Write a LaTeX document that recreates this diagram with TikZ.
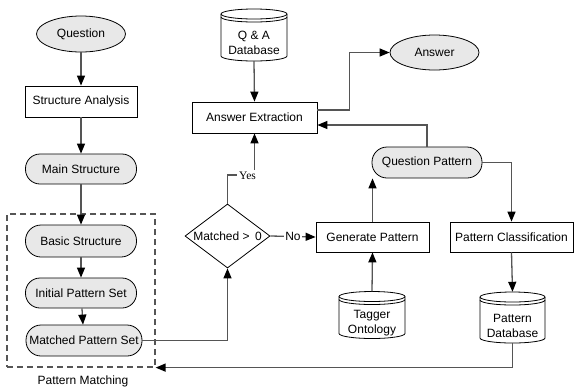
\documentclass[tikz,border=0pt]{standalone}
\usepackage{fontspec}
\setmainfont{Liberation Sans}
\newfontfamily\yesfont{Liberation Serif}
\usetikzlibrary{shapes.geometric,arrows.meta}
\definecolor{lgray}{RGB}{232,232,232}
\definecolor{lnc}{RGB}{85,85,85}
\tikzset{
  base/.style={draw=black, line width=0.8bp, font=\fontsize{12bp}{15bp}\selectfont, inner sep=0pt, align=center},
  procbox/.style={base, rectangle, fill=white},
  termell/.style={base, ellipse, fill=lgray, minimum width=89bp, minimum height=36bp},
  stadium/.style={base, rectangle, rounded corners=14.5bp, fill=lgray, minimum width=111bp, minimum height=30bp},
  decision/.style={base, diamond, fill=white, minimum width=85bp, minimum height=64bp, aspect=1.33},
  conn/.style={draw=lnc, line width=1.3bp},
  arr/.style={conn, -{Triangle[length=10bp,width=8bp,color=black]}},
  cylline/.style={draw=black, line width=0.8bp},
  lbl/.style={font=\fontsize{12bp}{15bp}\selectfont, inner sep=1.5bp, fill=white},
  pmbox/.style={draw=lnc, line width=1.2bp, dash pattern=on 6bp off 4bp, minimum width=148bp, minimum height=153bp, inner sep=0pt}
}
\newcommand{\cylnode}[6]{%
  \begin{scope}[shift={(#2,#3)}]
    \pgfmathsetmacro\hw{#4/2}\pgfmathsetmacro\hh{#5/2}
    \draw[cylline,fill=white] (-\hw,-\hh+5) -- (-\hw,\hh-5)
      arc[start angle=180,end angle=0,x radius=\hw,y radius=5]
      -- (\hw,-\hh+5)
      arc[start angle=0,end angle=-180,x radius=\hw,y radius=5] -- cycle;
    \draw[cylline] (-\hw,-\hh+5) arc[start angle=180,end angle=0,x radius=\hw,y radius=5];
    \draw[cylline] (-\hw,-\hh+8) arc[start angle=180,end angle=0,x radius=\hw,y radius=5];
  \end{scope}
  \node[inner sep=0pt, minimum width=#4bp, minimum height=#5bp] (#1) at (#2,#3) {};
  \node[font=\fontsize{12bp}{15bp}\selectfont, align=center, inner sep=0pt] (#1-t) at (#2,#3+8) {#6};
}
\begin{document}
\begin{tikzpicture}[x=1bp,y=-1bp]
\useasboundingbox (0,0) rectangle (574,387);

% left column
\node[termell] (q) at (81,34) {Question};
\node[procbox, minimum width=112bp, minimum height=31bp] (sa) at (81,101.5) {Structure Analysis};
\node[stadium] (ms) at (81,169) {Main Structure};
\node[pmbox] (pm) at (81,290.5) {};
\node[stadium, minimum height=32bp, rounded corners=15.5bp] (bs) at (81,241) {Basic Structure};
\node[stadium] (ips) at (81,293) {Initial Pattern Set};
\node[stadium, minimum width=116bp, minimum height=31bp, rounded corners=15bp] (mps) at (84,340.5) {Matched Pattern Set};
\node[font=\fontsize{12bp}{15bp}\selectfont, inner sep=0pt] (pml) at (83,381) {Pattern Matching};

% middle
\cylnode{qa}{254}{35}{66}{52}{Q \& A\\Database}
\node[procbox, minimum width=125bp, minimum height=31bp] (ae) at (254.5,117.5) {Answer Extraction};
\node[termell, minimum height=35bp] (ans) at (434.5,52.5) {Answer};
\node[decision] (dia) at (227.5,236) {Matched >\, 0};
\node[procbox, minimum width=113bp, minimum height=30bp] (gp) at (372.5,237) {Generate Pattern};
\node[stadium, minimum width=110bp, minimum height=31bp, rounded corners=15bp] (qp) at (427,162.5) {Question Pattern};
\node[procbox, minimum width=123bp, minimum height=30bp] (pc) at (511.5,237) {Pattern Classification};
\cylnode{to}{372}{315}{66}{47}{Tagger\\Ontology}
\cylnode{pdb}{512.5}{317.5}{65}{51}{Pattern\\Database}

% connectors
\draw[arr] (q) -- (sa);
\draw[arr] (sa) -- (ms);
\draw[arr] (ms) -- (bs);
\draw[arr] (bs) -- (ips);
\draw[arr] (ips) -- (mps);
\draw[arr] (mps.east) -| (dia.south);
\coordinate (yt) at (254.5,175);
\draw[arr] (dia.north) |- (yt) -- (ae.south);
\node[lbl, font=\yesfont\fontsize{11.5bp}{14bp}\selectfont, inner sep=2bp] (yes) at (247.5,176) {Yes};
\draw[arr] (dia.east) -- node[lbl] (no) {No} (gp.west);
\draw[arr] (qa.south) -- (ae.north);
\draw[arr] ([yshift=7.5bp]ae.east) -- ++(32,0) |- (ans.west);
\draw[arr] (qp.north) |- ([yshift=-7.5bp]ae.east);
\draw[arr] (qp.east) -| (pc.north);
\draw[arr] (gp.north) -- (gp.north |- qp.south);
\draw[arr] (to.north) -- (gp.south);
\draw[arr] (pc.south) -- (pdb.north);
\draw[arr] (pdb.south) |- (pm.south east);
\end{tikzpicture}
\end{document}
